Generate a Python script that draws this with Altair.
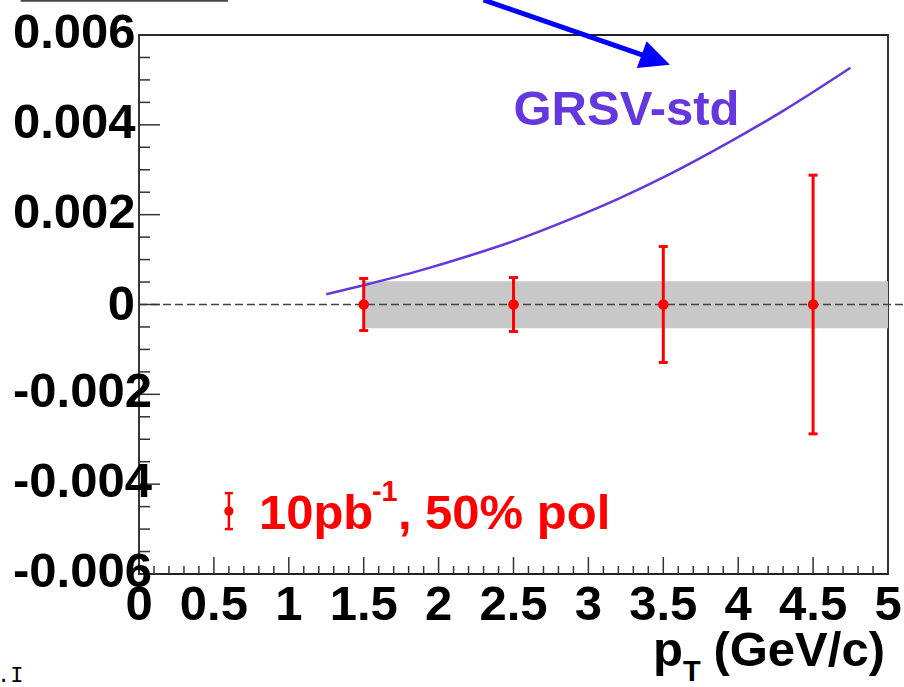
import altair as alt
import pandas as pd

# ---------------- data ----------------
curve_x = [1.25, 1.5, 1.88, 2.21, 2.5, 2.88, 3.21, 3.53, 3.97, 4.3, 4.75]
curve_y = [0.00023, 0.00043, 0.00076, 0.00109, 0.00141, 0.00190, 0.00237, 0.00288, 0.00367, 0.00431, 0.00527]

pt_x = [1.5, 2.5, 3.5, 4.5]
pt_y = [0.0, 0.0, 0.0, 0.0]
pt_err = [0.00058, 0.00060, 0.00129, 0.00288]

band_x = [1.5]
band_x2 = [5.0]
band_lo = [-0.00053]
band_hi = [0.00052]

legend_x = [0.6]
legend_y = [-0.0046]
legend_err = [0.0004]

x_major = [0, 0.5, 1, 1.5, 2, 2.5, 3, 3.5, 4, 4.5, 5]
x_labels = ["0", "0.5", "1", "1.5", "2", "2.5", "3", "3.5", "4", "4.5", "5"]
x_minor = [round(i * 0.1, 2) for i in range(51) if i % 5 != 0]

y_major = [0.006, 0.004, 0.002, 0.0, -0.002, -0.004, -0.006]
y_labels = ["0.006", "0.004", "0.002", "0", "-0.002", "-0.004", "-0.006"]
y_minor = [round(-0.006 + i * 0.0005, 5) for i in range(25) if i % 4 != 0]

# arrow annotation (data coordinates, partly above the frame)
arrow_x = [2.30]
arrow_y = [0.00678]
arrow_x2 = [3.45]
arrow_y2 = [0.00545]

box_x = [-0.79]
box_x2 = [0.594]
box_y = [0.00676]

# ---------------- layout ----------------
W, H = 749, 539
FONT = "Liberation Sans"
FS = 49
RED = "#ff0000"
PURPLE = "#6438dc"

xs = alt.Scale(domain=[0, 5], nice=False, zero=False)
ys = alt.Scale(domain=[-0.006, 0.006], nice=False, zero=False)


def X(f):
    return alt.X(f, type="quantitative", scale=xs, axis=None)


def Y(f):
    return alt.Y(f, type="quantitative", scale=ys, axis=None)


def X2(f):
    return alt.X2(f)


def Y2(f):
    return alt.Y2(f)


band_df = pd.DataFrame({"x": band_x, "x2": band_x2, "lo": band_lo, "hi": band_hi})
band = alt.Chart(band_df).mark_rect(color="#c8c8c8").encode(
    x=X("x"), x2=X2("x2"), y=Y("lo"), y2=Y2("hi"))

curve_df = pd.DataFrame({"x": curve_x, "y": curve_y})
curve = alt.Chart(curve_df).mark_line(color=PURPLE, strokeWidth=2.5, interpolate="monotone").encode(
    x=X("x"), y=Y("y"))

zero_df = pd.DataFrame({"y": [0.0]})
zero = alt.Chart(zero_df).mark_rule(color="#444444", strokeWidth=1.6, strokeDash=[8, 4]).encode(
    y=Y("y"), x=alt.value(0), x2=alt.value(W + 16))

pts = pd.DataFrame({"x": pt_x, "y": pt_y, "err": pt_err})
pts["lo"] = pts["y"] - pts["err"]
pts["hi"] = pts["y"] + pts["err"]
ebar = alt.Chart(pts).mark_rule(color=RED, strokeWidth=3).encode(
    x=X("x"), y=Y("lo"), y2=Y2("hi"))
caps_df = pd.concat([pts[["x", "lo"]].rename(columns={"lo": "c"}),
                     pts[["x", "hi"]].rename(columns={"hi": "c"})])
caps = alt.Chart(caps_df).mark_tick(color=RED, orient="horizontal", size=9, thickness=3, opacity=1).encode(
    x=X("x"), y=Y("c"))
dots = alt.Chart(pts).mark_circle(color=RED, size=110, opacity=1).encode(x=X("x"), y=Y("y"))

# legend
leg = pd.DataFrame({"x": legend_x, "y": legend_y, "err": legend_err})
leg["lo"] = leg["y"] - leg["err"]
leg["hi"] = leg["y"] + leg["err"]
leg_bar = alt.Chart(leg).mark_rule(color=RED, strokeWidth=2.5).encode(x=X("x"), y=Y("lo"), y2=Y2("hi"))
leg_caps_df = pd.concat([leg[["x", "lo"]].rename(columns={"lo": "c"}),
                         leg[["x", "hi"]].rename(columns={"hi": "c"})])
leg_caps = alt.Chart(leg_caps_df).mark_tick(color=RED, orient="horizontal", size=8, thickness=2.5, opacity=1).encode(
    x=X("x"), y=Y("c"))
leg_dot = alt.Chart(leg).mark_circle(color=RED, size=85, opacity=1).encode(x=X("x"), y=Y("y"))
leg_t1 = alt.Chart(leg).mark_text(text="10pb", font=FONT, fontWeight="bold", fontSize=FS, color=RED,
                                  align="left", baseline="alphabetic", dx=30, dy=18).encode(x=X("x"), y=Y("y"))
leg_t2 = alt.Chart(leg).mark_text(text="-1", font=FONT, fontWeight="bold", fontSize=29, color=RED,
                                  align="left", baseline="alphabetic", dx=143, dy=-10).encode(x=X("x"), y=Y("y"))
leg_t3 = alt.Chart(leg).mark_text(text=", 50% pol", font=FONT, fontWeight="bold", fontSize=FS, color=RED,
                                  align="left", baseline="alphabetic", dx=169, dy=18).encode(x=X("x"), y=Y("y"))

grsv_df = pd.DataFrame({"x": [2.5], "y": [0.004], "t": ["GRSV-std"]})
grsv = alt.Chart(grsv_df).mark_text(font=FONT, fontWeight="bold", fontSize=FS, color=PURPLE,
                                    align="left", baseline="alphabetic").encode(x=X("x"), y=Y("y"), text="t:N")

# arrow
arr = pd.DataFrame({"x": arrow_x, "y": arrow_y, "x2": arrow_x2, "y2": arrow_y2})
shaft = alt.Chart(arr).mark_rule(color="#0000ff", strokeWidth=5).encode(
    x=X("x"), y=Y("y"), x2=X2("x2"), y2=Y2("y2"))
head = alt.Chart(arr).mark_point(shape="M-1,-0.95L1,0L-1,0.95Z", filled=True, color="#0000ff",
                                 size=900, angle=20, opacity=1).encode(x=X("x2"), y=Y("y2"))

box_df = pd.DataFrame({"x": box_x, "x2": box_x2, "y": box_y})
box = alt.Chart(box_df).mark_rule(color="#444444", strokeWidth=2).encode(x=X("x"), x2=X2("x2"), y=Y("y"))

# ticks (inward)
ymaj_df = pd.DataFrame({"v": y_major, "t": y_labels})
ymin_df = pd.DataFrame({"v": y_minor})
xmaj_df = pd.DataFrame({"v": x_major, "t": x_labels})
xmin_df = pd.DataFrame({"v": x_minor})
TICK = "#333333"
yt_major = alt.Chart(ymaj_df).mark_rule(color=TICK, strokeWidth=1.5).encode(
    y=Y("v"), x=alt.value(0), x2=alt.value(21))
yt_minor = alt.Chart(ymin_df).mark_rule(color=TICK, strokeWidth=1.5).encode(
    y=Y("v"), x=alt.value(0), x2=alt.value(11))
xt_major = alt.Chart(xmaj_df).mark_rule(color=TICK, strokeWidth=1.5).encode(
    x=X("v"), y=alt.value(H), y2=alt.value(H - 17))
xt_minor = alt.Chart(xmin_df).mark_rule(color=TICK, strokeWidth=1.5).encode(
    x=X("v"), y=alt.value(H), y2=alt.value(H - 8))

# tick labels
xlab = alt.Chart(xmaj_df).mark_text(font=FONT, fontWeight="bold", fontSize=FS, color="black",
                                    align="center", baseline="alphabetic").encode(
    x=X("v"), y=alt.value(H + 46), text="t:N")
ylab_nz = alt.Chart(ymaj_df).transform_filter("datum.v != 0").mark_text(
    font=FONT, fontWeight="bold", fontSize=FS, color="black", align="left", baseline="alphabetic", dy=13
).encode(y=Y("v"), x=alt.value(-126), text="t:N")
ylab_z = alt.Chart(ymaj_df).transform_filter("datum.v == 0").mark_text(
    font=FONT, fontWeight="bold", fontSize=FS, color="black", align="right", baseline="alphabetic", dy=15
).encode(y=Y("v"), x=alt.value(-4), text="t:N")

# axis title p_T (GeV/c)
t_df = pd.DataFrame({"a": [0]})
tp = alt.Chart(t_df).mark_text(text="p", font=FONT, fontWeight="bold", fontSize=FS, color="black",
                               align="left", baseline="alphabetic").encode(x=alt.value(514), y=alt.value(631))
tT = alt.Chart(t_df).mark_text(text="T", font=FONT, fontWeight="bold", fontSize=29, color="black",
                               align="left", baseline="alphabetic").encode(x=alt.value(544), y=alt.value(646))
tg = alt.Chart(t_df).mark_text(text="(GeV/c)", font=FONT, fontWeight="bold", fontSize=FS, color="black",
                               align="right", baseline="alphabetic").encode(x=alt.value(746), y=alt.value(631))
frag = alt.Chart(t_df).mark_text(text=".I", font="Liberation Mono", fontSize=22, color="black",
                                 align="left", baseline="alphabetic").encode(x=alt.value(-142), y=alt.value(647))

chart = alt.layer(
    band, curve, zero, ebar, caps, dots,
    leg_bar, leg_caps, leg_dot, leg_t1, leg_t2, leg_t3,
    grsv, shaft, head, box,
    yt_major, yt_minor, xt_major, xt_minor,
    xlab, ylab_nz, ylab_z, tp, tT, tg, frag,
).properties(
    width=W, height=H,
    autosize=alt.AutoSizeParams(type="none"),
    padding={"left": 139, "top": 35, "right": 16, "bottom": 113},
    background="white",
).configure_view(stroke="#222222", strokeWidth=1.8)

chart.save("out.html", embed_options={"renderer": "svg", "actions": False})
